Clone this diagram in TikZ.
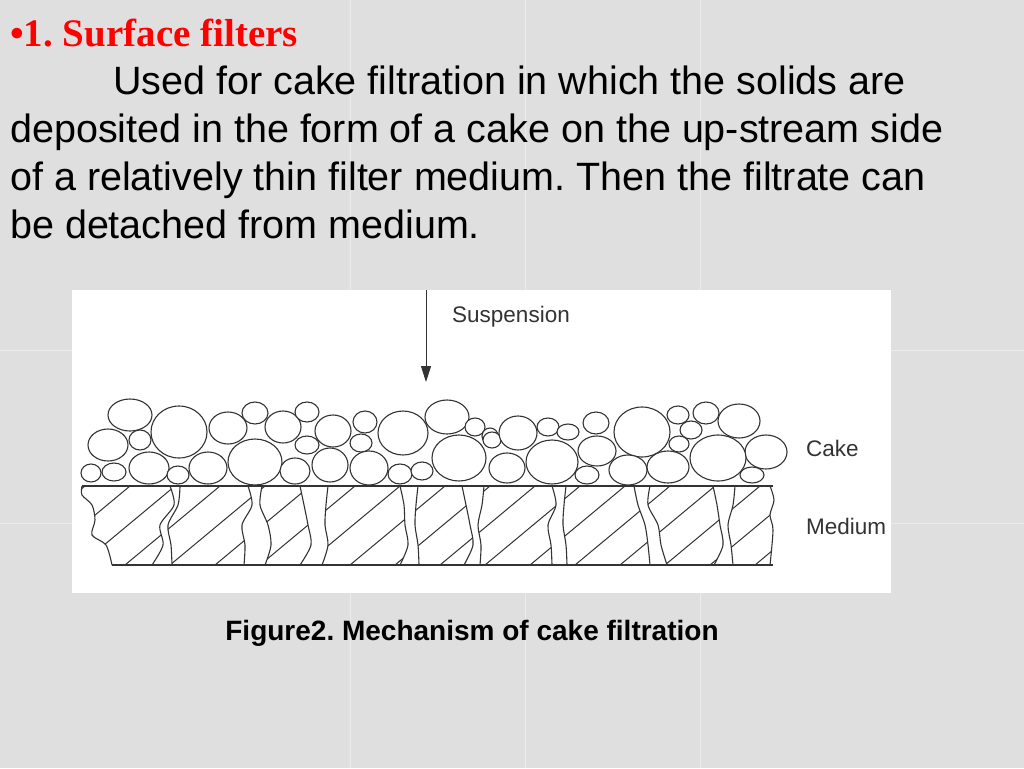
\documentclass[tikz,border=0pt]{standalone}
\usepackage{fontspec}
\usetikzlibrary{arrows.meta}
\setmainfont{Liberation Sans}
\newfontfamily\serifr{Liberation Serif}
\frenchspacing
\begin{document}
\begin{tikzpicture}[x=1pt,y=-1pt,
  txt/.style={anchor=base west,inner sep=0,font=\fontsize{39.5}{44}\selectfont},
  lbl/.style={anchor=west,inner sep=0,font=\fontsize{22.5}{24}\selectfont,text=black!80},
  ptc/.style={draw=black!80,line width=1.1pt},
  chan/.style={fill=white,draw=black!80,line width=1.1pt}]
\useasboundingbox (0,0) rectangle (1024,768);
\fill[gray!25] (0,0) rectangle (1024,768);
\foreach \x in {350,525,700} \draw[white!85!gray,line width=1pt] (\x,0) -- (\x,768);
\foreach \y in {350,523} \draw[white!85!gray,line width=1pt] (0,\y) -- (1024,\y);
\node[txt,font=\serifr\bfseries\fontsize{39}{44}\selectfont,text=red] (t0) at (10,47) {•1. Surface filters};
\node[txt] (t1) at (113,94) {Used for cake filtration in which the solids are};
\node[txt] (t2) at (10,142) {deposited in the form of a cake on the up-stream side};
\node[txt] (t3) at (10,190) {of a relatively thin filter medium. Then the filtrate can};
\node[txt] (t4) at (10,238) {be detached from medium.};
\fill[white] (72,290) rectangle (891,593);
% arrow
\coordinate (a0) at (426,290);
\coordinate (a1) at (426,382);
\draw[black!80,line width=1pt,-{Triangle[length=16pt,width=10pt]}] (a0) -- (a1);
\node[lbl] (susp) at (452,317) {Suspension};
\node[lbl] (cake) at (806,448) {Cake};
\node[lbl] (med) at (806,526) {Medium};
% medium hatching
\begin{scope}
\clip (82,486) rectangle (773,565);
\foreach \x in {-100,-55,...,800} \draw[black!80,line width=1pt] (\x,565) -- (\x+95,486);
\end{scope}
% left edge
\fill[white] (74,484) -- (82,486) plot[smooth] coordinates {(82,495)(92,505)(95,520)(92,535)(106,545)(112,565)} -- (74,567) -- cycle;
\draw[ptc] plot[smooth] coordinates {(82,486)(82,495)(92,505)(95,520)(92,535)(106,545)(112,565)};
% right edge
\fill[white] (778,484) -- (772,486) plot[smooth] coordinates {(772,486)(774,500)(770,515)(773,530)(770,565)} -- (778,567) -- cycle;
\draw[ptc] plot[smooth] coordinates {(770,486)(774,500)(770,515)(773,530)(770,565)};
% channels
\foreach \la/\lb/\lc/\ra/\rb/\rc in {
 170/160/152/180/168/172,
 248/242/244/262/268/265,
 300/308/300/328/325/322,
 400/405/400/418/415/419,
 462/470/464/484/478/480,
 552/548/552/566/563/567,
 634/645/650/650/658/667,
 713/720/714/735/728/733}{
 \draw[chan] plot[smooth] coordinates {(\la,486)(\la+4,505)(\lb,525)(\lb+3,545)(\lc,565)}
   -- plot[smooth] coordinates {(\rc,565)(\rb+3,545)(\rb,525)(\ra-2,505)(\ra,486)} -- cycle;
}
\draw[ptc] (82,486) -- (773,486);
\draw[ptc] (112,565) -- (773,565);
% cake particles
\foreach \cx/\cy/\rx/\ry in {
 130/415/22/16, 179/432/28/26, 108/445/20/16, 140/440/11/10, 228/428/19/16,
 255/413/13/11, 283/427/18/16, 307/412/12/10, 333/431/18/16, 365/422/12/11,
 361/443/11/9, 403/433/25/22, 447/417/22/17, 475/427/10/9, 459/458/27/23,
 91/473/10/9, 114/472/12/9, 149/468/20/16, 178/475/11/9, 208/468/19/16,
 255/462/27/23, 295/471/15/13, 307/445/12/9, 330/465/18/17, 369/468/19/17,
 400/474/12/10, 422/471/11/9, 490/436/8/8,
 492/440/9/8, 518/433/19/17, 548/427/11/9, 568/432/11/8, 596/423/13/11,
 642/432/28/25, 678/415/11/9, 706/413/13/11, 691/430/11/9, 739/421/21/17,
 679/444/10/8, 597/451/19/15, 766/452/21/17,
 507/468/18/15, 552/462/26/22, 587/475/12/9, 628/470/19/15, 668/467/21/16,
 718/458/28/23, 752/475/12/8}{
 \draw[ptc,fill=white] (\cx,\cy) ellipse [x radius=\rx,y radius=\ry];
}
\node[inner sep=0,font=\bfseries\fontsize{28}{30}\selectfont] (cap) at (472,633) {Figure2. Mechanism of cake filtration};
\end{tikzpicture}
\end{document}
